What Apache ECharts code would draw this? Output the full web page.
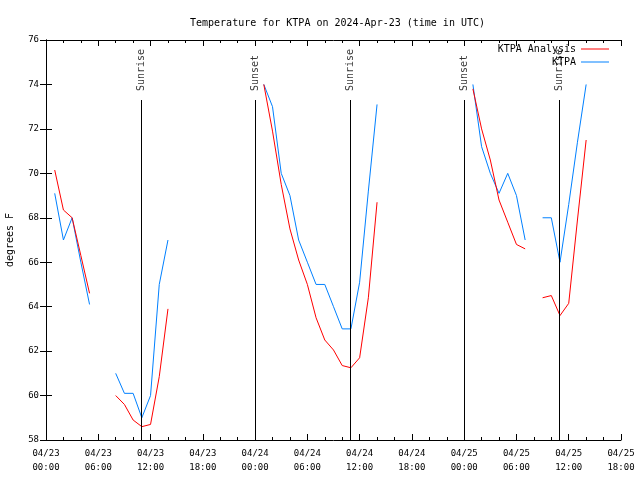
<!DOCTYPE html>
<html>
<head>
<meta charset="utf-8">
<script src="https://cdn.jsdelivr.net/npm/echarts@6/dist/echarts.min.js"></script>
<style>html,body{margin:0;padding:0;background:#fff}#c{width:640px;height:480px}</style>
</head>
<body>
<div id="c"></div>
<script>
// hours since 2024-04-23 00:00 UTC
var hours = [];
for (var i = 1; i <= 62; i++) hours.push(i);
// values by hour (h=1..62), null = no data
var analysis = [
  70.15, 68.35, 68.0, 66.3, 64.6, null, null,            // 1-7
  60.0, 59.6, 58.9, 58.6, 58.7, 60.85, 63.9,             // 8-14
  null, null, null, null, null, null, null, null, null, null, // 15-24
  74.0, 71.9, 69.5, 67.5, 66.1, 65.0, 63.5, 62.5, 62.05, 61.35, 61.25, 61.7, 64.4, 68.7, // 25-38
  null, null, null, null, null, null, null, null, null, null, // 39-48
  73.8, 72.0, 70.6, 68.8, 67.8, 66.8, 66.6,              // 49-55
  null,                                                  // 56
  64.4, 64.5, 63.6, 64.15, 67.9, 71.5                    // 57-62
];
var observed = [
  69.1, 67.0, 68.0, 66.0, 64.1, null, null,
  61.0, 60.1, 60.1, 59.0, 60.0, 65.0, 67.0,
  null, null, null, null, null, null, null, null, null, null,
  74.0, 73.0, 70.0, 69.0, 67.0, 66.0, 65.0, 65.0, 64.0, 63.0, 63.0, 65.1, 69.2, 73.1,
  null, null, null, null, null, null, null, null, null, null,
  74.0, 71.2, 70.0, 69.1, 70.0, 69.0, 67.0,
  null,
  68.0, 68.0, 66.0, 68.6, 71.4, 74.0
];
var sunHours = [10.98, 24.02, 34.97, 48.03, 58.95];
var sunNames = ['Sunrise', 'Sunset', 'Sunrise', 'Sunset', 'Sunrise'];
var dayLabels = ['04/23', '04/24', '04/25', '04/26'];
var yTicks = [58, 60, 62, 64, 66, 68, 70, 72, 74, 76];

function pairs(vals) { return hours.map(function (h, i) { return [h, vals[i]]; }); }

var FONT = 'DejaVu Sans Mono';
var chart = echarts.init(document.getElementById('c'), null, { renderer: 'canvas' });

var lineTop = 73.3, labelBase = 73.66;
var markData = sunHours.map(function (h) { return [{ coord: [h, 58] }, { coord: [h, lineTop] }]; });
var labelData = sunHours.map(function (h, i) { return { value: [h, labelBase], name: sunNames[i] }; });

var xCommon = {
  type: 'value', min: 0, max: 66, interval: 6,
  axisLine: { show: true, lineStyle: { color: '#000', width: 1 } },
  axisTick: { show: true, inside: true, length: 6, lineStyle: { color: '#000' } },
  minorTick: { show: true, splitNumber: 3, length: 3, lineStyle: { color: '#000' } },
  splitLine: { show: false }, minorSplitLine: { show: false }
};
var legendCommon = {
  right: 31, orient: 'vertical', align: 'right', padding: 0,
  icon: 'rect', itemWidth: 28, itemHeight: 1, itemGap: 3, selectedMode: false,
  textStyle: { fontFamily: FONT, fontSize: 10, color: '#000' }
};

chart.setOption({
  animation: false,
  backgroundColor: '#fff',
  title: {
    text: 'Temperature for KTPA on 2024-Apr-23 (time in UTC)',
    left: 185, top: 13,
    textStyle: { fontFamily: FONT, fontSize: 10, fontWeight: 'normal', color: '#000' }
  },
  legend: [
    Object.assign({}, legendCommon, { data: ['KTPA Analysis'], top: 44 }),
    Object.assign({}, legendCommon, { data: ['KTPA'], top: 57 })
  ],
  grid: { left: 46, right: 19, top: 40, bottom: 40, containLabel: false, outerBoundsMode: 'none' },
  xAxis: [
    Object.assign({}, xCommon, {
      position: 'bottom',
      axisLabel: {
        show: true, margin: 7, fontFamily: FONT, fontSize: 9, color: '#000', lineHeight: 14,
        formatter: function (v) {
          var d = Math.floor(v / 24), hh = v % 24;
          return dayLabels[d] + '\n' + (hh < 10 ? '0' : '') + hh + ':00';
        }
      }
    }),
    Object.assign({}, xCommon, { position: 'top', axisLabel: { show: false } })
  ],
  yAxis: [
    { type: 'value', min: yTicks[0], max: yTicks[yTicks.length - 1], interval: 2, position: 'left',
      name: 'degrees F', nameLocation: 'middle', nameGap: 31, nameRotate: 90,
      nameTextStyle: { fontFamily: FONT, fontSize: 10, color: '#000' },
      axisLine: { show: true, lineStyle: { color: '#000' } },
      axisTick: { show: true, inside: true, length: 6, lineStyle: { color: '#000' } },
      axisLabel: { margin: 7, fontFamily: FONT, fontSize: 9, color: '#000' },
      splitLine: { show: false } },
    { type: 'value', min: yTicks[0], max: yTicks[yTicks.length - 1], interval: 2, position: 'right',
      axisLine: { show: true, lineStyle: { color: '#000' } },
      axisTick: { show: true, inside: true, length: 6, lineStyle: { color: '#000' } },
      axisLabel: { show: false }, splitLine: { show: false } }
  ],
  series: [
    { name: 'KTPA Analysis', type: 'line', data: pairs(analysis), showSymbol: false, symbol: 'none',
      connectNulls: false, lineStyle: { color: '#ff0000', width: 1 }, itemStyle: { color: '#ff0000' },
      z: 3 },
    { name: 'KTPA', type: 'line', data: pairs(observed), showSymbol: false, symbol: 'none',
      connectNulls: false, lineStyle: { color: '#0080ff', width: 1 }, itemStyle: { color: '#0080ff' },
      z: 2 },
    { name: 'sun', type: 'scatter', data: labelData, symbolSize: 0, silent: true, z: 4,
      label: { show: true, position: 'inside', rotate: 90, align: 'left', verticalAlign: 'middle',
        offset: [1, 0],
        formatter: function (p) { return p.name; },
        fontFamily: FONT, fontSize: 10, color: '#000' },
      markLine: { silent: true, symbol: ['none', 'none'], label: { show: false },
        lineStyle: { color: '#000', width: 1, type: 'solid' }, data: markData } }
  ]
});
</script>
</body>
</html>
